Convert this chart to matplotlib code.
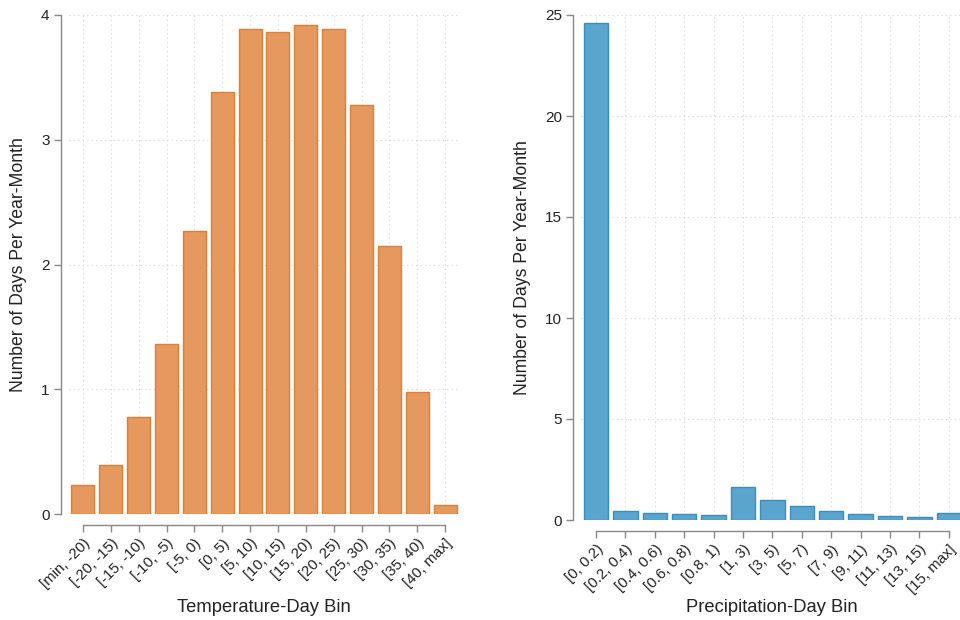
import matplotlib
matplotlib.use("Agg")
import matplotlib.pyplot as plt

plt.rcParams['font.family'] = ['Liberation Sans', 'DejaVu Sans']

temp_bins = ["[min, -20)", "[-20, -15)", "[-15, -10)", "[-10, -5)", "[-5, 0)", "[0, 5)",
             "[5, 10)", "[10, 15)", "[15, 20)", "[20, 25)", "[25, 30)", "[30, 35)",
             "[35, 40)", "[40, max]"]
temp_days = [0.23, 0.39, 0.78, 1.36, 2.27, 3.38, 3.89, 3.86, 3.92, 3.89, 3.28, 2.15, 0.98, 0.07]

prec_bins = ["[0, 0.2)", "[0.2, 0.4)", "[0.4, 0.6)", "[0.6, 0.8)", "[0.8, 1)", "[1, 3)",
             "[3, 5)", "[5, 7)", "[7, 9)", "[9, 11)", "[11, 13)", "[13, 15)", "[15, max]"]
prec_days = [24.6, 0.47, 0.36, 0.30, 0.25, 1.62, 1.0, 0.68, 0.45, 0.30, 0.20, 0.15, 0.36]

W, H = 960, 620
fig = plt.figure(figsize=(9.6, 6.2), dpi=100)

def px_axes(x0, x1, ytop, ybot):
    return fig.add_axes([x0 / W, (H - ybot) / H, (x1 - x0) / W, (ybot - ytop) / H])

axL = px_axes(69, 459, 15, 514)
axR = px_axes(581.3, 963.5, 15, 520)

spine_c = '#888888'
grid_c = '#d4d4d4'

def style(ax, labels, values, ymax, ystep, fc, ec, xlabel, ytop, ybot, xcenter_px, x0, x1):
    n = len(labels)
    xs = list(range(n))
    ax.bar(xs, values, width=0.83, color=fc, edgecolor=ec, linewidth=1.0, zorder=3)
    ax.set_xlim(-0.5, n - 0.5)
    ax.set_ylim(0, ymax)
    ax.set_yticks(list(range(0, ymax + 1, ystep)))
    ax.set_xticks(xs)
    for s in ['top', 'right']:
        ax.spines[s].set_visible(False)
    ax.spines['left'].set_position(('outward', 6))
    ax.spines['bottom'].set_position(('outward', 8))
    ax.spines['bottom'].set_bounds(0, n - 1)
    for s in ['left', 'bottom']:
        ax.spines[s].set_color(spine_c)
        ax.spines[s].set_linewidth(1.0)
    ax.tick_params(axis='both', color=spine_c, length=5, width=1.0)
    ax.tick_params(axis='y', labelsize=11, labelcolor='#222222', pad=3)
    ax.tick_params(axis='x', pad=3, labelsize=10.8, labelcolor='#222222')
    ax.set_xticklabels(labels)
    for t in ax.get_xticklabels():
        t.set_rotation(45)
        t.set_ha('right')
        t.set_va('top')
        t.set_rotation_mode('anchor')
    ax.grid(True, linestyle=(0, (1, 3)), color=grid_c, linewidth=0.8, zorder=0)
    ax.set_axisbelow(True)
    ax.set_xlabel(xlabel, fontsize=13.2, color='#222222', va='center')
    ax.xaxis.set_label_coords((xcenter_px - x0) / (x1 - x0), (ybot - 607) / (ybot - ytop))
    ax.set_ylabel("Number of Days Per Year-Month", fontsize=12.7, labelpad=10, color='#222222')

style(axL, temp_bins, temp_days, 4, 1, '#e6995e', '#e07e35', "Temperature-Day Bin", 15, 514, 264, 69, 459)
style(axR, prec_bins, prec_days, 25, 5, '#5aa5ce', '#3b8dc0', "Precipitation-Day Bin", 15, 520, 772, 581.3, 963.5)

fig.savefig("out.png", dpi=100)
